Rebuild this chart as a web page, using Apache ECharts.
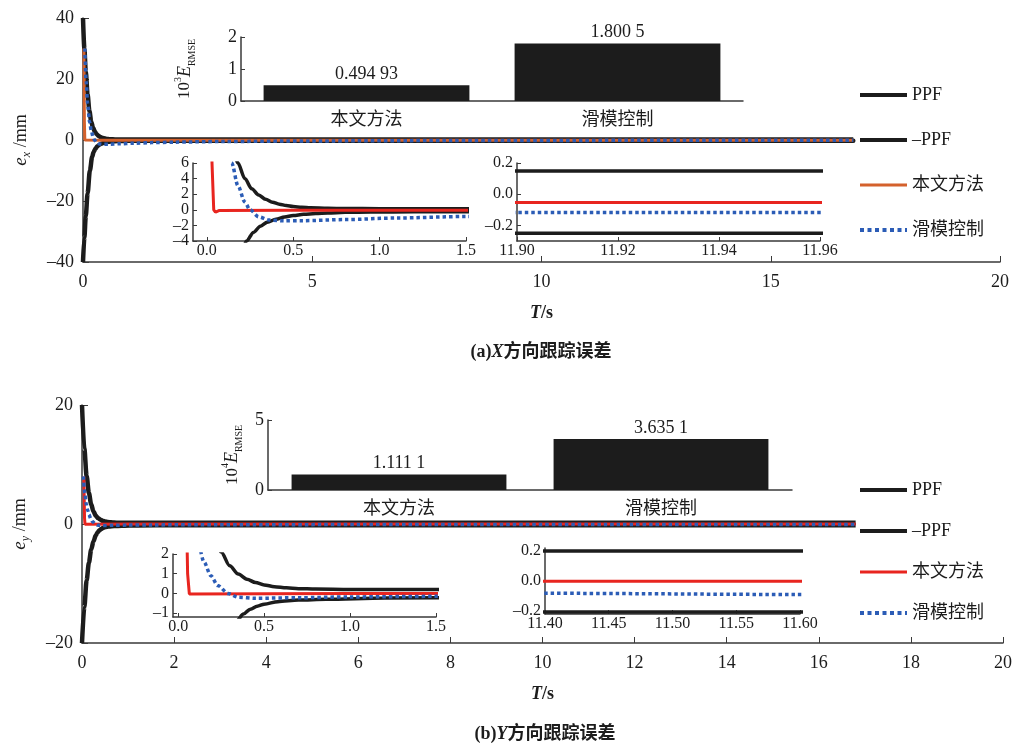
<!DOCTYPE html>
<html>
<head>
<meta charset="utf-8">
<script src="https://cdn.jsdelivr.net/npm/echarts@6/dist/echarts.min.js"></script>
<style>
html,body{margin:0;padding:0;background:#fff;}
#chartA{width:1019px;height:373px;}
#chartB{width:1019px;height:374px;}
</style>
</head>
<body>
<div id="chartA"></div>
<div id="chartB"></div>
<script>
// ---------- data ----------
var methods = ['本文方法', '滑模控制'];
var legendNames = ['PPF', '–PPF', '本文方法', '滑模控制'];

// (a) X direction tracking error, [t(s), e_x(mm)]
var ppfUpA = [[0,40],[0.03,30],[0.06,22.5],[0.1,15],[0.14,9.5],[0.18,6.0],[0.22,4.0],[0.26,2.7],[0.3,1.9],[0.34,1.35],[0.38,0.98],[0.42,0.72],[0.46,0.54],[0.5,0.42],[0.55,0.32],[0.6,0.25],[0.7,0.19],[0.8,0.165],[1.0,0.15],[16.8,0.148]];
var ppfLowA = [[0,-40],[0.03,-32],[0.06,-25],[0.1,-17.5],[0.15,-10],[0.2,-5.5],[0.23,-4.0],[0.27,-2.9],[0.31,-2.1],[0.35,-1.6],[0.4,-1.2],[0.45,-0.92],[0.5,-0.73],[0.56,-0.58],[0.63,-0.47],[0.7,-0.4],[0.8,-0.33],[0.95,-0.28],[1.2,-0.26],[16.8,-0.245]];
var oursA = [[0.02,30],[0.03,6],[0.04,0],[0.05,-0.3],[0.07,-0.1],[0.5,-0.06],[16.8,-0.05]];
var smcA = [[0.04,30],[0.07,19],[0.1,12],[0.144,6],[0.18,3.1],[0.22,1.0],[0.25,0],[0.3,-0.9],[0.36,-1.3],[0.45,-1.42],[0.55,-1.4],[0.8,-1.25],[1.1,-1.05],[1.5,-0.86],[2,-0.7],[3,-0.5],[5,-0.3],[8,-0.18],[11.9,-0.118],[16.8,-0.1]];
var rmseA = [0.49493, 1.8005];
var rmseTextA = ['0.494 93', '1.800 5'];
var insetTicksA = [[-4, 0, 4], [-2, 2, 6]];   // y labels of the small inset, split in two rows

// (b) Y direction tracking error
var ppfUpB = [[0,20],[0.05,12.7],[0.1,8.1],[0.15,5.2],[0.2,3.3],[0.25,2.1],[0.3,1.4],[0.35,0.98],[0.4,0.72],[0.45,0.55],[0.5,0.43],[0.56,0.34],[0.63,0.28],[0.7,0.24],[0.8,0.22],[1.0,0.2],[16.8,0.2]];
var ppfLowB = [[0,-20],[0.05,-14],[0.1,-9.5],[0.15,-6.5],[0.2,-4.3],[0.25,-2.9],[0.3,-1.9],[0.34,-1.4],[0.38,-1.05],[0.42,-0.8],[0.46,-0.65],[0.5,-0.55],[0.58,-0.42],[0.7,-0.34],[0.86,-0.3],[1.2,-0.24],[2,-0.21],[16.8,-0.205]];
var oursB = [[0.04,8],[0.055,1],[0.065,-0.03],[1,-0.005],[16.8,0]];
var smcB = [[0.03,8],[0.06,5.2],[0.09,3.4],[0.12,2.4],[0.15,1.6],[0.19,0.9],[0.23,0.4],[0.29,0],[0.35,-0.2],[0.45,-0.25],[0.7,-0.22],[1.0,-0.18],[1.5,-0.15],[3,-0.12],[6,-0.1],[11.4,-0.082],[11.6,-0.09],[16.8,-0.09]];
var rmseB = [1.1111, 3.6351];
var rmseTextB = ['1.111 1', '3.635 1'];
var insetTicksB = [[-1, 0, 1, 2]];

// ---------- styles ----------
var FONT = '"Liberation Serif","Noto Sans CJK SC",serif';
var INK = '#1c1c1c';
var AXIS = '#3a3a3a';
var BLUE = '#2b5cb6';
var ORANGE = '#d4612c';
var RED = '#e8251f';

function fmt(d) {
  return function (v) {
    var s = d == null ? String(v) : Number(v).toFixed(d);
    return s.replace('-', '–');
  };
}

function valAxis(gi, min, max, o) {
  var ax = {
    type: 'value', gridIndex: gi, min: min, max: max,
    axisLine: {show: true, onZero: false, lineStyle: {color: AXIS, width: 1.5}},
    axisTick: {show: true, inside: true, length: o.tickLen || 4, lineStyle: {color: AXIS, width: 1}},
    splitLine: {show: false},
    axisLabel: {color: INK, fontFamily: FONT, fontSize: o.fs || 16, lineHeight: o.lh || 13, hideOverlap: false,
      showMinLabel: true, showMaxLabel: true,
      margin: o.margin == null ? 5 : o.margin, formatter: fmt(o.digits)}
  };
  if (o.interval != null) ax.interval = o.interval;
  if (o.ticks) { ax.axisTick.customValues = o.ticks; ax.axisLabel.customValues = o.ticks; }
  if (o.name) {
    ax.name = o.name; ax.nameLocation = 'middle'; ax.nameGap = o.nameGap;
    if (o.nameRotate != null) ax.nameRotate = o.nameRotate;
    ax.nameTextStyle = {color: INK, fontFamily: FONT, fontSize: 18, rich: o.rich};
  }
  return ax;
}

var richE = {
  i: {fontFamily: FONT, fontSize: 19, fontStyle: 'italic', color: INK},
  sub: {fontFamily: FONT, fontSize: 12, fontStyle: 'italic', color: INK, verticalAlign: 'bottom'},
  n: {fontFamily: FONT, fontSize: 18, color: INK, lineHeight: 24}
};
var richT = {
  i: {fontFamily: FONT, fontSize: 18, fontStyle: 'italic', fontWeight: 'bold', color: INK},
  n: {fontFamily: FONT, fontSize: 18, fontWeight: 'bold', color: INK}
};
var richR = {
  n: {fontFamily: FONT, fontSize: 17, color: INK, lineHeight: 24},
  sup: {fontFamily: FONT, fontSize: 10, color: INK, verticalAlign: 'top'},
  i: {fontFamily: FONT, fontSize: 18, fontStyle: 'italic', color: INK, lineHeight: 24},
  sub: {fontFamily: FONT, fontSize: 10, color: INK, verticalAlign: 'bottom'}
};

function lineSet(xi, yi, d, oursColor, main) {
  var w = main ? 4.5 : 3.5;
  return [
    {name: 'PPF', type: 'line', xAxisIndex: xi, yAxisIndex: yi, data: d.up, symbol: 'none', smooth: 0.3, smoothMonotone: 'x',
      lineStyle: {color: INK, width: w}, itemStyle: {color: INK}, z: 2},
    {name: '–PPF', type: 'line', xAxisIndex: xi, yAxisIndex: yi, data: d.low, symbol: 'none', smooth: 0.3, smoothMonotone: 'x',
      lineStyle: {color: INK, width: w}, itemStyle: {color: INK}, z: 2},
    {name: '本文方法', type: 'line', xAxisIndex: xi, yAxisIndex: yi, data: d.ours, symbol: 'none',
      lineStyle: {color: oursColor, width: 3}, itemStyle: {color: oursColor}, z: 3},
    {name: '滑模控制', type: 'line', xAxisIndex: xi, yAxisIndex: yi, data: d.smc, symbol: 'none', smooth: 0.3, smoothMonotone: 'x',
      lineStyle: {color: BLUE, width: 3.5, type: [3.5, 3]}, itemStyle: {color: BLUE}, z: 4}
  ];
}

function buildPanel(p) {
  var L = p.layout;
  var grids = [L.main, L.bar, L.insL, L.insR].map(function (g) {
    return {left: g[0], top: g[1], width: g[2], height: g[3], containLabel: false, outerBoundsMode: 'none'};
  });
  var xAxes = [
    valAxis(0, 0, 20, {interval: p.mainXInt, fs: 18, lh: 18, margin: 11, tickLen: 6, name: '{i|T}{n|/s}', nameGap: 42, rich: richT}),
    {type: 'category', gridIndex: 1, data: methods,
      axisLine: {lineStyle: {color: AXIS, width: 1.5}}, axisTick: {show: false},
      axisLabel: {color: INK, fontFamily: FONT, fontSize: 18, margin: 10}},
    valAxis(2, L.insLx[0], 1.5, {ticks: [0, 0.5, 1, 1.5], digits: 1, margin: 3}),
    valAxis(3, L.insRx[0], L.insRx[1], {interval: L.insRx[2], digits: 2, margin: 3})
  ];
  var rows = p.insetTicks;
  var allTicks = [].concat.apply([], rows).sort(function (a, b) { return a - b; });
  var insL = valAxis(2, L.insLy[0], L.insLy[1], {ticks: rows[0], margin: 4});
  insL.position = 'left';
  insL.axisTick.customValues = allTicks;
  var yAxes = [
    valAxis(0, -p.mainYMax, p.mainYMax, {interval: 20, fs: 18, lh: 18, margin: 9, tickLen: 6,
      name: '{i|e}{sub|' + p.axisLetter + '}{n| /mm}', nameGap: 50, nameRotate: 90, rich: richE}),
    valAxis(1, 0, p.barMax, {interval: p.barInt, fs: 18, margin: 4,
      name: '{n|10}{sup|' + p.pow + '}{i|E}{sub|RMSE}', nameGap: p.barNameGap, nameRotate: 90, rich: richR}),
    insL,
    valAxis(3, L.insRy[0], L.insRy[1], {ticks: [-0.2, 0, 0.2], digits: 1, margin: 4})
  ];
  for (var r = 1; r < rows.length; r++) {
    var extra = valAxis(2, L.insLy[0], L.insLy[1], {ticks: rows[r], margin: 4});
    extra.position = 'left';
    extra.axisLine.show = false;
    extra.axisTick.show = false;
    yAxes.push(extra);
  }
  var series = []
    .concat(lineSet(0, 0, p.data, p.mainOurs, true))
    .concat(lineSet(2, 2, p.data, RED, false))
    .concat(lineSet(3, 3, p.data, RED, false));
  series.push({
    name: 'rmse', type: 'bar', xAxisIndex: 1, yAxisIndex: 1, data: p.rmse, barWidth: '82%',
    itemStyle: {color: INK},
    label: {show: true, position: 'top', distance: 2, color: INK, fontFamily: FONT, fontSize: 18,
      formatter: function (q) { return p.rmseText[q.dataIndex]; }}
  });
  var legWidths = [4, 4, 3, 4];
  return {
    animation: false,
    backgroundColor: '#fff',
    grid: grids, xAxis: xAxes, yAxis: yAxes, series: series,
    legend: {
      orient: 'vertical', left: 858, top: L.legTop, itemGap: L.legGap, itemWidth: 47, itemHeight: 14,
      padding: 0,
      data: legendNames.map(function (n, k) {
        var ls = {width: legWidths[k]};
        if (k === 3) ls.type = [4, 3.5];
        return {name: n, lineStyle: ls};
      }),
      itemStyle: {opacity: 0},
      textStyle: {color: INK, fontFamily: FONT, fontSize: 18}
    },
    graphic: [{
      type: 'text', x: p.capX, y: p.capY,
      style: {text: p.caption, align: 'center', verticalAlign: 'middle', fill: INK,
        fontFamily: FONT, fontSize: 18, fontWeight: 'bold', rich: richT}
    }]
  };
}

var chartA = echarts.init(document.getElementById('chartA'));
chartA.setOption(buildPanel({
  data: {up: ppfUpA, low: ppfLowA, ours: oursA, smc: smcA},
  rmse: rmseA, rmseText: rmseTextA, mainOurs: ORANGE, insetTicks: insetTicksA,
  mainXInt: 5, mainYMax: 40, axisLetter: 'x', barMax: 2, barInt: 1, pow: '3', barNameGap: 44,
  caption: '{n|(a)}{i|X}{n|方向跟踪误差}', capX: 541, capY: 352,
  layout: {
    main: [83, 18, 917, 244], bar: [241, 37, 502, 64],
    insL: [193, 163, 273, 78], insR: [517, 163, 303, 78],
    insLx: [-0.08], insLy: [-4, 6],
    insRx: [11.9, 11.96, 0.02], insRy: [-0.3, 0.2],
    legTop: 86, legGap: 27
  }
}));

var chartB = echarts.init(document.getElementById('chartB'));
chartB.setOption(buildPanel({
  data: {up: ppfUpB, low: ppfLowB, ours: oursB, smc: smcB},
  rmse: rmseB, rmseText: rmseTextB, mainOurs: RED, insetTicks: insetTicksB,
  mainXInt: 2, mainYMax: 20, axisLetter: 'y', barMax: 5, barInt: 5, pow: '4', barNameGap: 20,
  caption: '{n|(b)}{i|Y}{n|方向跟踪误差}', capX: 545, capY: 361,
  layout: {
    main: [82, 32, 921, 238], bar: [268, 47, 524, 70],
    insL: [173, 181, 263, 63], insR: [545, 175, 255, 66],
    insLx: [-0.03], insLy: [-1.2, 2],
    insRx: [11.4, 11.6, 0.05], insRy: [-0.22, 0.22],
    legTop: 108, legGap: 23
  }
}));
</script>
</body>
</html>
